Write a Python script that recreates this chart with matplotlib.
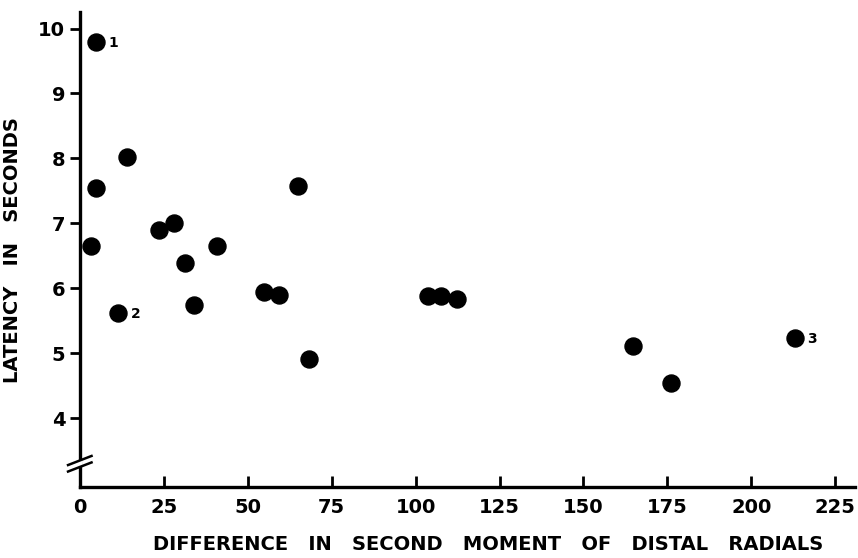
from matplotlib import pyplot as plt

# Data
diff_moment = [4.7, 4.9, 14.2, 3.4, 11.4, 23.6, 28.1, 31.3, 33.9, 40.9,
               54.9, 59.2, 65.0, 68.2, 103.6, 107.6, 112.3, 164.7, 176.2, 213.0]
latency = [9.80, 7.55, 8.02, 6.65, 5.62, 6.90, 7.00, 6.39, 5.75, 6.65,
           5.94, 5.90, 7.58, 4.92, 5.88, 5.88, 5.84, 5.11, 4.55, 5.24]
labelled = {0: "1", 4: "2", 19: "3"}

x_ticks = [0, 25, 50, 75, 100, 125, 150, 175, 200, 225]
y_ticks = [4, 5, 6, 7, 8, 9, 10]

plt.rcParams['font.family'] = ['DejaVu Sans']
plt.rcParams['font.weight'] = 'bold'

fig = plt.figure(figsize=(8.58, 5.58), dpi=100)
ax = fig.add_axes([0.093, 0.127, 0.904, 0.851])

ax.scatter(diff_moment, latency, s=150, color="black", zorder=3)
for i, txt in labelled.items():
    ax.annotate(txt, (diff_moment[i], latency[i]), xytext=(9, -1),
                textcoords="offset points", va="center", ha="left",
                fontsize=10, fontweight="bold")

ax.set_xlim(0, 231)
ax.set_ylim(2.94, 10.25)
ax.set_xticks(x_ticks)
ax.set_yticks(y_ticks)
ax.tick_params(axis="x", direction="in", length=8, width=2, labelsize=14, pad=8)
ax.tick_params(axis="y", direction="out", length=7, width=2, labelsize=14)

for side in ["top", "right"]:
    ax.spines[side].set_visible(False)
for side in ["left", "bottom"]:
    ax.spines[side].set_linewidth(2.4)

# axis break marks on the y axis
for off in [-0.05, 0.05]:
    ax.plot([-3.5, 3.5], [3.30 + off - 0.07, 3.30 + off + 0.07], color="black",
            lw=1.8, clip_on=False, zorder=4)
ax.plot([0, 0], [3.29, 3.31], color="white", lw=4, clip_on=False, zorder=3.5)

ax.set_xlabel("DIFFERENCE   IN   SECOND   MOMENT   OF   DISTAL   RADIALS",
              fontsize=14, fontweight="bold")
ax.xaxis.set_label_coords(0.527, -0.1)
ax.set_ylabel("LATENCY   IN   SECONDS", fontsize=14, fontweight="bold", labelpad=12)

fig.savefig("out.png", dpi=100)
